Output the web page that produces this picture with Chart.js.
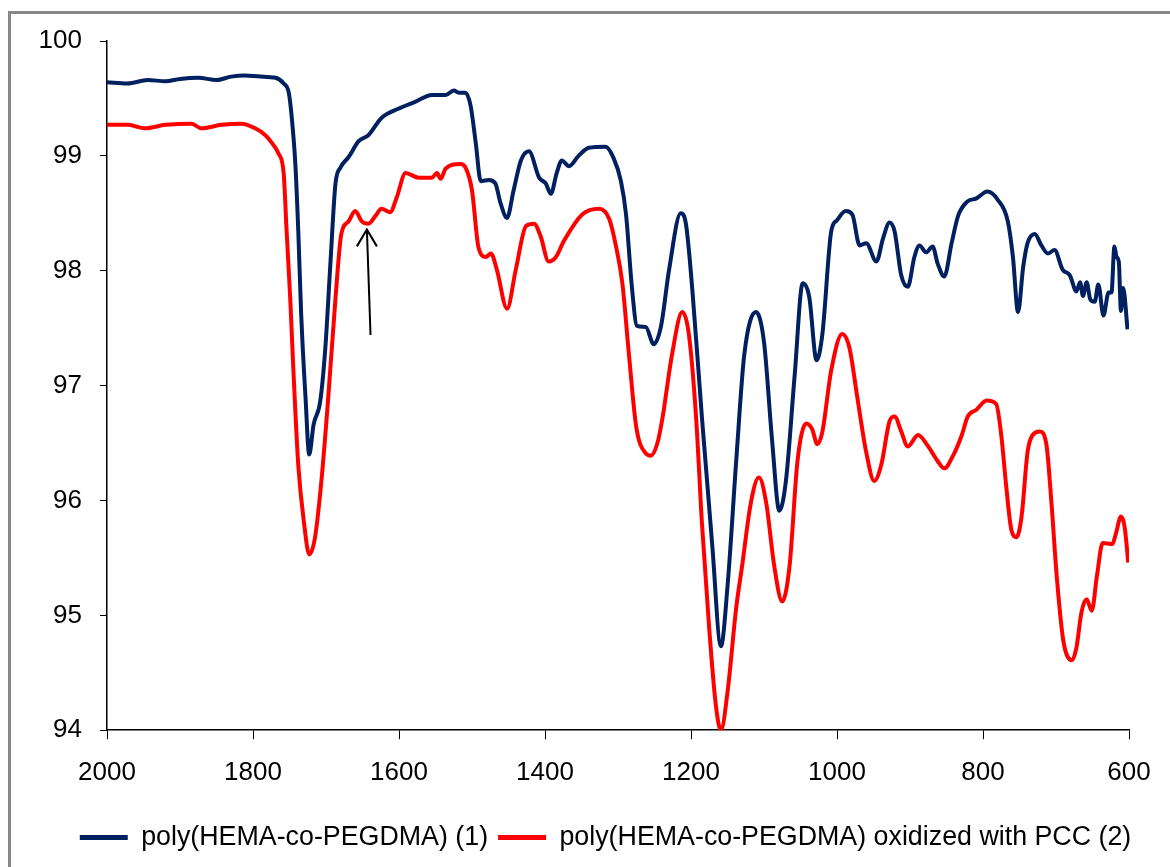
<!DOCTYPE html>
<html>
<head>
<meta charset="utf-8">
<script src="https://cdn.jsdelivr.net/npm/chart.js@4.4.1/dist/chart.umd.min.js"></script>
<style>
  html, body { margin: 0; padding: 0; background: #fff; overflow: hidden; }
  #wrap { position: relative; width: 1170px; height: 867px; }
  #frame { position: absolute; left: 8px; top: 11px; width: 1300px; height: 1000px;
           border: 3px solid #888888; pointer-events: none; }
</style>
</head>
<body>
<div id="wrap">
  <canvas id="irChart" width="1170" height="867"></canvas>
  <div id="frame"></div>
</div>
<script>
// series 1: poly(HEMA-co-PEGDMA) (1)
const navyWn = [2000, 1972, 1944, 1920, 1900, 1875, 1850, 1830, 1811, 1790, 1769, 1758, 1751, 1747, 1742,
  1738, 1734, 1728, 1723, 1717, 1708, 1701, 1694, 1687, 1680, 1669, 1655, 1642, 1624, 1601, 1578, 1555,
  1536, 1525, 1518, 1509, 1502, 1495, 1488, 1477, 1468, 1461, 1452, 1443, 1433, 1422, 1408, 1399, 1392,
  1384, 1377, 1367, 1354, 1340, 1317, 1306, 1296, 1289, 1281, 1274, 1262, 1251, 1241, 1230, 1214, 1207,
  1198, 1185, 1171, 1159, 1150, 1138, 1127, 1111, 1100, 1089, 1079, 1070, 1058, 1047, 1038, 1028, 1020,
  1008, 1000, 988, 979, 969, 960, 946, 937, 928, 921, 912, 903, 894, 887, 878, 869, 862, 853, 843, 834,
  822, 809, 794, 780, 766, 759, 752, 745, 739, 729, 720, 711, 702, 691, 681, 672, 667, 663, 658, 653,
  647, 642, 635, 628, 624, 620, 617, 614, 611, 608, 602];
const navyT = [99.64, 99.63, 99.66, 99.65, 99.67, 99.68, 99.66, 99.69, 99.70, 99.69, 99.68, 99.63, 99.55, 99.34, 98.93,
  98.35, 97.62, 96.89, 96.40, 96.66, 96.86, 97.32, 98.06, 98.76, 98.90, 98.99, 99.13, 99.18, 99.33, 99.41, 99.47, 99.53,
  99.53, 99.57, 99.55, 99.55, 99.44, 99.12, 98.78, 98.79, 98.76, 98.59, 98.46, 98.70, 98.96, 99.04, 98.81, 98.76, 98.67,
  98.85, 98.96, 98.91, 99.00, 99.07, 99.08, 98.98, 98.78, 98.49, 97.86, 97.52, 97.51, 97.36, 97.52, 98.01, 98.50, 98.41,
  97.82, 96.72, 95.62, 94.73, 95.25, 96.35, 97.27, 97.64, 97.38, 96.53, 95.91, 96.17, 97.09, 97.89, 97.77, 97.22, 97.45,
  98.34, 98.44, 98.52, 98.49, 98.22, 98.24, 98.08, 98.28, 98.42, 98.34, 97.96, 97.86, 98.12, 98.22, 98.16, 98.21, 98.06, 97.95, 98.24, 98.48,
  98.60, 98.63, 98.69, 98.62, 98.43, 98.12, 97.64, 98.03, 98.24, 98.32, 98.22, 98.15, 98.18, 98.01, 97.96, 97.82, 97.90, 97.78, 97.90, 97.75,
  97.73, 97.88, 97.61, 97.81, 97.81, 98.21, 98.12, 98.08, 97.65, 97.85, 97.49];

// series 2: oxidized with PCC (2)
const redWn = [2000, 1971, 1948, 1920, 1884, 1871, 1843, 1816, 1797, 1783, 1775, 1765, 1758, 1754, 1749,
  1745, 1738, 1730, 1723, 1715, 1706, 1697, 1687, 1679, 1669, 1660, 1651, 1642, 1632, 1624, 1612, 1603,
  1591, 1573, 1555, 1548, 1543, 1536, 1516, 1509, 1500, 1491, 1481, 1474, 1466, 1452, 1440, 1426, 1415,
  1406, 1395, 1385, 1374, 1349, 1326, 1312, 1303, 1294, 1285, 1275, 1262, 1255, 1246, 1239, 1226, 1212,
  1203, 1193, 1185, 1175, 1166, 1159, 1150, 1138, 1130, 1118, 1107, 1097, 1086, 1075, 1065, 1054, 1042,
  1034, 1027, 1020, 1008, 993, 983, 972, 960, 949, 939, 928, 921, 912, 903, 889, 876, 864, 853, 841, 829,
  821, 809, 795, 782, 775, 768, 761, 754, 747, 739, 732, 722, 713, 706, 699, 690, 678, 672, 665, 658, 651,
  644, 636, 623, 618, 611, 606, 601];
const redT = [99.27, 99.27, 99.24, 99.27, 99.28, 99.24, 99.27, 99.28, 99.24, 99.18, 99.12, 99.02, 98.85, 98.35, 97.76,
  97.18, 96.31, 95.80, 95.53, 95.68, 96.19, 96.89, 97.76, 98.32, 98.43, 98.52, 98.43, 98.41, 98.48, 98.54, 98.51, 98.64,
  98.85, 98.81, 98.81, 98.85, 98.80, 98.89, 98.93, 98.90, 98.70, 98.20, 98.12, 98.15, 98.01, 97.67, 98.01, 98.39, 98.41,
  98.30, 98.08, 98.12, 98.26, 98.49, 98.54, 98.45, 98.22, 97.89, 97.27, 96.64, 96.41, 96.39, 96.50, 96.72, 97.27, 97.64,
  97.45, 96.72, 95.80, 94.88, 94.22, 94.00, 94.33, 95.07, 95.43, 95.98, 96.20, 95.98, 95.43, 95.12, 95.43, 96.35, 96.67,
  96.62, 96.49, 96.60, 97.13, 97.45, 97.33, 96.89, 96.42, 96.17, 96.32, 96.69, 96.73, 96.60, 96.47, 96.57, 96.48, 96.36, 96.28, 96.39, 96.57,
  96.73, 96.79, 96.87, 96.84, 96.57, 96.11, 95.74, 95.68, 95.87, 96.42, 96.57, 96.60, 96.48, 95.96, 95.34, 94.78, 94.61, 94.72, 95.03, 95.14, 95.04,
  95.34, 95.63, 95.62, 95.71, 95.86, 95.77, 95.46];

const seriesNames = ['poly(HEMA-co-PEGDMA) (1)', 'poly(HEMA-co-PEGDMA) oxidized with PCC (2)'];
const xTicks = [2000, 1800, 1600, 1400, 1200, 1000, 800, 600];
const yTicks = [94, 95, 96, 97, 98, 99, 100];
// arrow marking the shoulder near 1640 cm-1 (tail, head)
const arrowWn = [1639, 1644];
const arrowT = [97.44, 98.36];

const toPoints = (xs, ys) => xs.map((x, i) => ({ x: x, y: ys[i] }));

const arrowPlugin = {
  id: 'arrow',
  afterDatasetsDraw(chart) {
    const { ctx, scales } = chart;
    const x0 = scales.x.getPixelForValue(arrowWn[0]), y0 = scales.y.getPixelForValue(arrowT[0]);
    const x1 = scales.x.getPixelForValue(arrowWn[1]), y1 = scales.y.getPixelForValue(arrowT[1]);
    ctx.save();
    ctx.strokeStyle = '#000';
    ctx.lineWidth = 2;
    ctx.beginPath();
    ctx.moveTo(x0, y0);
    ctx.lineTo(x1, y1);
    ctx.moveTo(x1 - 10, y1 + 17);
    ctx.lineTo(x1, y1);
    ctx.lineTo(x1 + 10, y1 + 17);
    ctx.stroke();
    ctx.restore();
  }
};

// the legend in the original is centred under the whole picture, not under the axis box
const legendShift = {
  id: 'legendShift',
  afterLayout(chart) {
    chart.legend.left += 41;
    chart.legend.right += 41;
  }
};

const fontFamily = '"Liberation Sans", Arial, sans-serif';

new Chart(document.getElementById('irChart').getContext('2d'), {
  type: 'line',
  data: {
    datasets: [{
      label: seriesNames[0],
      data: toPoints(navyWn, navyT),
      borderColor: '#002060',
      backgroundColor: '#002060',
      borderWidth: 4,
      pointRadius: 0,
      cubicInterpolationMode: 'monotone'
    }, {
      label: seriesNames[1],
      data: toPoints(redWn, redT),
      borderColor: '#ff0000',
      backgroundColor: '#ff0000',
      borderWidth: 4,
      pointRadius: 0,
      cubicInterpolationMode: 'monotone'
    }]
  },
  options: {
    responsive: false,
    animation: false,
    layout: { padding: { left: 0, right: 41, top: 41, bottom: 6 } },
    scales: {
      x: {
        type: 'linear',
        reverse: true,
        min: 600,
        max: 2000,
        afterBuildTicks: scale => { scale.ticks = xTicks.map(v => ({ value: v })); },
        afterFit: scale => { scale.height = 84; },
        grid: { drawOnChartArea: false, color: '#000', tickLength: 9 },
        border: { color: '#000', width: 1.5 },
        ticks: { color: '#000', padding: 18, font: { family: fontFamily, size: 26 }, maxRotation: 0,
                 callback: v => String(v) }
      },
      y: {
        min: 94,
        max: 100,
        afterBuildTicks: scale => { scale.ticks = yTicks.map(v => ({ value: v })); },
        afterFit: scale => { scale.width = 107; },
        grid: { drawOnChartArea: false, color: '#000', tickLength: 7 },
        border: { color: '#000', width: 1.5 },
        ticks: { color: '#000', padding: 18, font: { family: fontFamily, size: 26 },
                 callback: v => String(v) }
      }
    },
    plugins: {
      tooltip: { enabled: false },
      legend: {
        position: 'bottom',
        labels: {
          color: '#000',
          boxWidth: 48,
          boxHeight: 5,
          padding: 10,
          font: { family: fontFamily, size: 26.8 },
          generateLabels: chart => Chart.defaults.plugins.legend.labels.generateLabels(chart)
            .map(l => Object.assign(l, { lineWidth: 0 }))
        }
      }
    }
  },
  plugins: [arrowPlugin, legendShift]
});
</script>
</body>
</html>
